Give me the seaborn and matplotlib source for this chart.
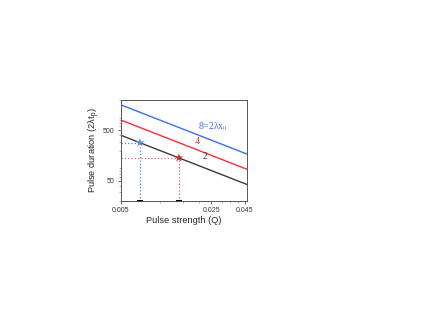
import numpy as np
import pandas as pd
import seaborn as sns
from matplotlib import pyplot as plt
from matplotlib.ticker import FixedLocator, NullFormatter, LogLocator

sns.set_style("ticks")
plt.rcParams["font.family"] = ["Liberation Sans", "DejaVu Sans"]

# values (endpoints of each line)
q_ends = [0.005, 0.047]
dur_x0_2 = [400, 42.5]
dur_x0_4 = [800, 85]
dur_x0_8 = [1600, 170]
line_labels = ["2", "4", "8"]

star_q = [0.007, 0.014]
star_dur = [286, 143]

colors = {"2": "#3a3a3a", "4": "#ff2a3a", "8": "#3d6cf5"}

df = pd.DataFrame({
    "Q": q_ends * 3,
    "dur": dur_x0_2 + dur_x0_4 + dur_x0_8,
    "x0": [l for l in line_labels for _ in q_ends],
})

fig = plt.figure(figsize=(4.36, 3.27), dpi=100)
ax = fig.add_axes([0.2775, 0.3853, 0.289, 0.3089])

sns.lineplot(data=df, x="Q", y="dur", hue="x0", palette=colors,
             linewidth=1.0, legend=False, ax=ax)
ax.set_xscale("log")
ax.set_yscale("log")
ax.set_xlim(0.005, 0.047)
ax.set_ylim(20, 2000)

# dotted guide lines from the stars
star_colors = ["#4a86e8", "#e06666"]
for q, d, c in zip(star_q, star_dur, star_colors):
    ax.plot([0.005, q], [d, d], ls=":", color=c, lw=0.9)
    ax.plot([q, q], [20, d], ls=":", color=c, lw=0.9)
    ax.plot([q / 1.06, q * 1.06], [20.3, 20.3], color="black", lw=1.5,
            solid_capstyle="butt", clip_on=False)
sns.scatterplot(x=star_q, y=star_dur, hue=["a", "b"],
                palette=["#5b8fe6", "#c0392b"], marker="*", s=45,
                edgecolor="none", legend=False, ax=ax, zorder=5)

serif = ["Liberation Serif", "DejaVu Serif"]
ax.text(0.0255, 590, r"8=2λx$\mathregular{_0}$", color=colors["8"], fontsize=7,
        family=serif, ha="center", va="center")
ax.text(0.0194, 300, "4", color=colors["4"], fontsize=7,
        family=serif, ha="center", va="center")
ax.text(0.0224, 152, "2", color=colors["2"], fontsize=7,
        family=serif, ha="center", va="center")

ax.xaxis.set_major_locator(FixedLocator([0.005, 0.025, 0.045]))
ax.xaxis.set_major_formatter(plt.FixedFormatter(["0.005", "0.025", "0.045"]))
ax.xaxis.set_minor_locator(FixedLocator(np.arange(0.01, 0.045, 0.005)))
ax.xaxis.set_minor_formatter(NullFormatter())
ax.yaxis.set_major_locator(FixedLocator([50, 500]))
ax.yaxis.set_major_formatter(plt.FixedFormatter(["50", "500"]))
ax.yaxis.set_minor_locator(LogLocator(base=10, subs=np.arange(2, 10), numticks=20))
ax.yaxis.set_minor_formatter(NullFormatter())

ax.tick_params(which="major", labelsize=5, length=2.5, width=0.6, pad=2,
               color="#555555", labelcolor="#333333")
ax.tick_params(which="minor", length=1.2, width=0.4, color="#777777")
for s in ax.spines.values():
    s.set_linewidth(0.7)
    s.set_color("#555555")

ax.set_xlabel("Pulse strength (Q)", fontsize=6.7, labelpad=1)
ax.set_ylabel(r"Pulse duration (2λt$\mathregular{_p}$)", fontsize=6.7, labelpad=1)

fig.savefig("out.png", dpi=100)
